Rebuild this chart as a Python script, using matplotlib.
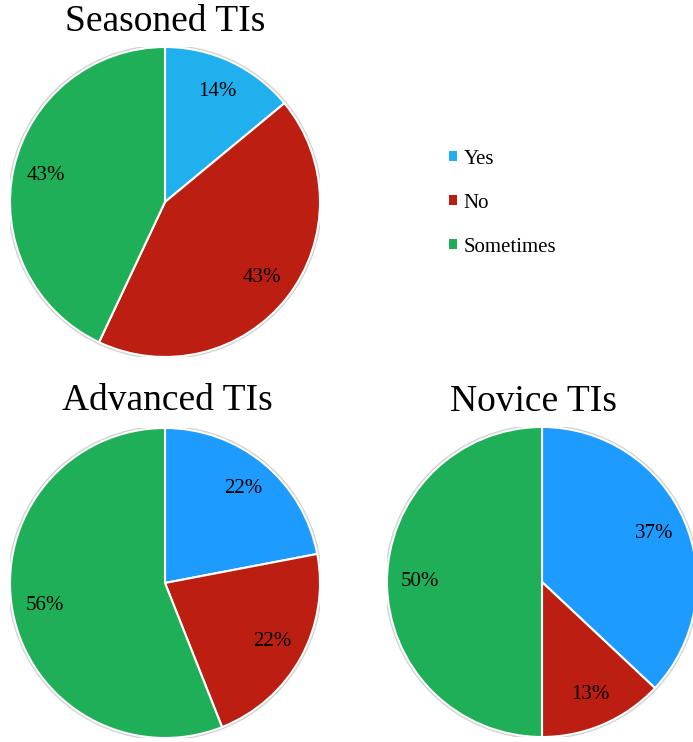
import matplotlib
matplotlib.use("Agg")
import matplotlib.pyplot as plt
from matplotlib.patches import Patch, Circle

plt.rcParams['font.family'] = ['Liberation Serif', 'DejaVu Serif']

categories = ["Yes", "No", "Sometimes"]

# share of responses in percent (order: Yes, No, Sometimes)
seasoned = [14, 43, 43]
advanced = [22, 22, 56]
novice = [37, 13, 50]

titles = ["Seasoned TIs", "Advanced TIs", "Novice TIs"]

colors_seasoned = ["#20B0EE", "#BC1E12", "#1EAF58"]
colors_other = ["#1E9BFF", "#BC1E12", "#1EAF58"]

W, H = 693, 742
fig = plt.figure(figsize=(W / 100, H / 100), dpi=100)


def pie_axes(cx, cy, r=155):
    # place a square axes in pixel coordinates, centred on (cx, cy) from top-left
    return fig.add_axes([(cx - r) / W, (H - cy - r) / H, 2 * r / W, 2 * r / H])


def draw_pie(ax, values, colors):
    ax.add_patch(Circle((0, 0), 1.008, facecolor="none", edgecolor="#d0d0d0",
                        linewidth=1.5, zorder=0))
    ax.pie(values, colors=colors, startangle=90, counterclock=False,
           autopct=lambda p: f"{p:.0f}%", pctdistance=0.79,
           wedgeprops=dict(edgecolor="white", linewidth=1.5),
           textprops=dict(fontsize=15, color="black"))
    ax.set_xlim(-1, 1)
    ax.set_ylim(-1, 1)
    ax.set_aspect("equal")
    ax.axis("off")


ax1 = pie_axes(165, 202)
draw_pie(ax1, seasoned, colors_seasoned)
ax2 = pie_axes(165, 583)
draw_pie(ax2, advanced, colors_other)
ax3 = pie_axes(542, 582)
draw_pie(ax3, novice, colors_other)

# titles
for (tx, ty), t in zip([(165, 22), (167, 401), (533, 402)], titles):
    fig.text(tx / W, 1 - ty / H, t, fontsize=27, ha="center", va="center")

handles = [Patch(facecolor=c, edgecolor="none") for c in colors_seasoned]
fig.legend(handles, categories, loc="center left",
           bbox_to_anchor=(449 / W, 1 - 203 / H), frameon=False,
           fontsize=15, handlelength=0.4, handleheight=0.4,
           handletextpad=0.3, labelspacing=1.2, borderpad=0, borderaxespad=0)

fig.savefig("out.png", dpi=100)
